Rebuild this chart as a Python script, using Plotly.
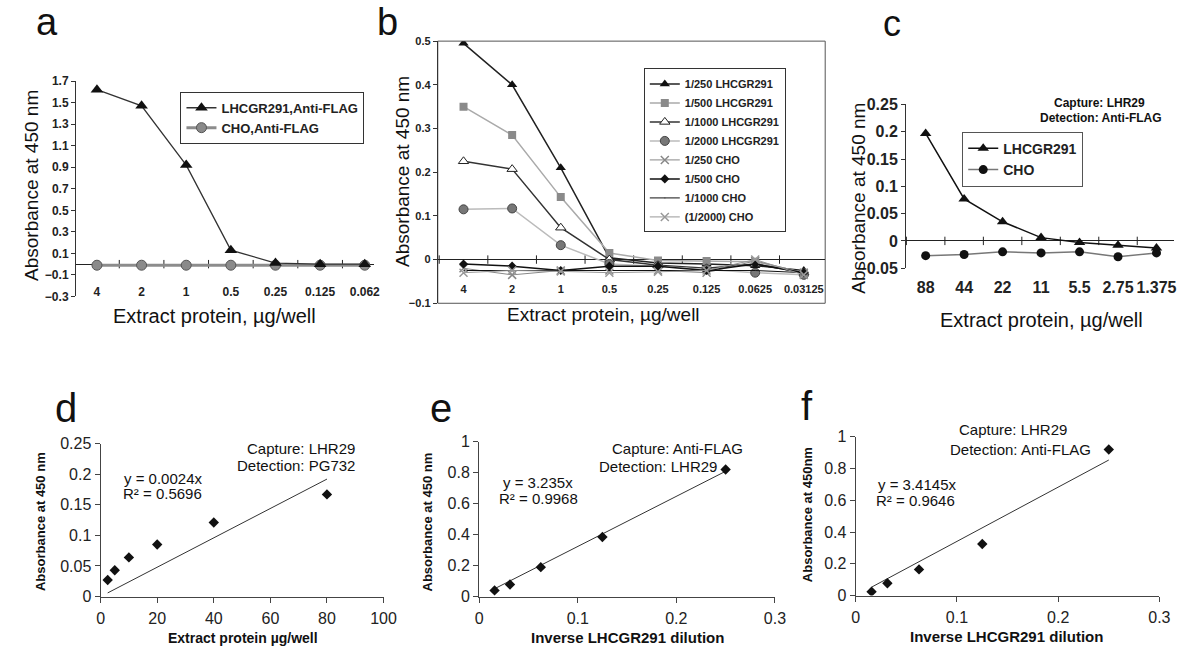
import plotly.graph_objects as go

FONT = "Liberation Sans, Arial, sans-serif"
W, H = 1200, 666

# ---- panel a ----
a_doses = ["4", "2", "1", "0.5", "0.25", "0.125", "0.062"]
a_lhcgr = [1.62, 1.47, 0.92, 0.13, 0.01, 0.0, 0.0]
a_cho = [-0.01, -0.01, -0.01, -0.01, -0.01, -0.01, -0.01]

# ---- panel b ----
b_doses = ["4", "2", "1", "0.5", "0.25", "0.125", "0.0625", "0.03125"]
b_names = ["1/250 LHCGR291", "1/500 LHCGR291", "1/1000 LHCGR291", "1/2000 LHCGR291",
           "1/250 CHO", "1/500 CHO", "1/1000 CHO", "(1/2000) CHO"]
b_250 = [0.495, 0.40, 0.21, 0.004, -0.008, -0.01, -0.014, -0.025]
b_500 = [0.35, 0.285, 0.143, 0.015, -0.002, -0.003, -0.005, -0.03]
b_1000 = [0.225, 0.207, 0.073, 0.0, -0.013, -0.02, -0.01, -0.03]
b_2000 = [0.115, 0.117, 0.033, -0.01, -0.015, -0.022, -0.03, -0.035]
b_cho250 = [-0.02, -0.035, -0.025, -0.025, -0.025, -0.03, -0.003, -0.03]
b_cho500 = [-0.01, -0.015, -0.025, -0.015, -0.015, -0.025, -0.01, -0.03]
b_cho1000 = [-0.025, -0.025, -0.025, -0.025, -0.025, -0.025, -0.025, -0.03]
b_cho2000 = [-0.03, -0.025, -0.027, -0.03, -0.028, -0.025, 0.0, -0.035]

# ---- panel c ----
c_doses = ["88", "44", "22", "11", "5.5", "2.75", "1.375"]
c_lhcgr = [0.197, 0.077, 0.035, 0.006, -0.003, -0.008, -0.013]
c_cho = [-0.027, -0.025, -0.02, -0.022, -0.02, -0.029, -0.022]

# ---- panels d, e, f ----
d_x = [2.5, 5, 10, 20, 40, 80]
d_y = [0.027, 0.043, 0.064, 0.085, 0.121, 0.167]
d_slope = 0.0024
e_x = [0.015625, 0.03125, 0.0625, 0.125, 0.25]
e_y = [0.04, 0.078, 0.19, 0.385, 0.82]
e_slope = 3.235
f_x = [0.015625, 0.03125, 0.0625, 0.125, 0.25]
f_y = [0.025, 0.078, 0.165, 0.325, 0.92]
f_slope = 3.4145


def px(x):
    return x / W


def py(y):
    return 1 - y / H


fig = go.Figure()


def zero_ticks(n, xa, ya):
    xs = [i - 0.5 for i in range(n + 1)]
    fig.add_trace(go.Scatter(x=xs, y=[0] * len(xs), xaxis=xa, yaxis=ya, mode="markers",
                             marker=dict(symbol="line-ns", size=6, line=dict(color="#222", width=1)),
                             showlegend=False, hoverinfo="skip"))


# panel a traces
ia = list(range(len(a_doses)))
zero_ticks(len(a_doses), "x", "y")
fig.add_trace(go.Scatter(x=ia, y=a_cho, name="CHO,Anti-FLAG", xaxis="x", yaxis="y",
                         mode="lines+markers", line=dict(color="#8c8c8c", width=3),
                         marker=dict(symbol="circle", size=10, color="#8a8a8a", line=dict(color="#555", width=1)),
                         legend="legend", legendrank=2))
fig.add_trace(go.Scatter(x=ia, y=a_lhcgr, name="LHCGR291,Anti-FLAG", xaxis="x", yaxis="y",
                         mode="lines+markers", line=dict(color="#333", width=1.3),
                         marker=dict(symbol="triangle-up", size=11, color="#111"),
                         legend="legend", legendrank=1))

# panel b traces
ib = list(range(len(b_doses)))
zero_ticks(len(b_doses), "x2", "y2")
b_series = [b_250, b_500, b_1000, b_2000, b_cho250, b_cho500, b_cho1000, b_cho2000]
b_styles = [
    dict(line=dict(color="#222", width=1.5), marker=dict(symbol="triangle-up", size=9, color="#111")),
    dict(line=dict(color="#aaa", width=1.5), marker=dict(symbol="square", size=8, color="#8a8a8a")),
    dict(line=dict(color="#333", width=1.5), marker=dict(symbol="triangle-up", size=9, color="white", line=dict(color="#222", width=1))),
    dict(line=dict(color="#bbb", width=1.5), marker=dict(symbol="circle", size=9, color="#777", line=dict(color="#444", width=1))),
    dict(line=dict(color="#888", width=1), marker=dict(symbol="x-thin-open", size=8, line=dict(color="#555", width=1.5))),
    dict(line=dict(color="#111", width=1.5), marker=dict(symbol="diamond", size=7, color="#111")),
    dict(line=dict(color="#111", width=1), marker=dict(size=1, opacity=0)),
    dict(line=dict(color="#999", width=1), marker=dict(symbol="x-thin-open", size=8, line=dict(color="#333", width=1.5))),
]
for k, (nm, ys, st) in enumerate(zip(b_names, b_series, b_styles)):
    fig.add_trace(go.Scatter(x=ib, y=ys, name=nm, xaxis="x2", yaxis="y2", mode="lines+markers",
                             legend="legend2", legendrank=k + 1, **st))

# panel c traces
ic = list(range(len(c_doses)))
zero_ticks(len(c_doses), "x3", "y3")
fig.add_trace(go.Scatter(x=ic, y=c_cho, name="CHO", xaxis="x3", yaxis="y3", mode="lines+markers",
                         line=dict(color="#777", width=1.5),
                         marker=dict(symbol="circle", size=9, color="#111"),
                         legend="legend3", legendrank=2))
fig.add_trace(go.Scatter(x=ic, y=c_lhcgr, name="LHCGR291", xaxis="x3", yaxis="y3", mode="lines+markers",
                         line=dict(color="#111", width=1.5),
                         marker=dict(symbol="triangle-up", size=10, color="#111"),
                         legend="legend3", legendrank=1))

# panels d, e, f
for xs, ys, slope, xa, ya in [(d_x, d_y, d_slope, "x4", "y4"),
                               (e_x, e_y, e_slope, "x5", "y5"),
                               (f_x, f_y, f_slope, "x6", "y6")]:
    lx = [min(xs), max(xs)]
    fig.add_trace(go.Scatter(x=lx, y=[slope * v for v in lx], xaxis=xa, yaxis=ya, mode="lines",
                             line=dict(color="#333", width=1), showlegend=False, hoverinfo="skip"))
    fig.add_trace(go.Scatter(x=xs, y=ys, xaxis=xa, yaxis=ya, mode="markers",
                             marker=dict(symbol="diamond", size=8, color="#111"),
                             showlegend=False))

cat_x = dict(showline=False, ticks="", showgrid=False, zeroline=False, anchor="free",
             tickfont=dict(family=FONT, color="#222", weight="bold"))
lin_y = dict(showline=True, linecolor="#333", linewidth=1, ticks="outside", ticklen=4,
             tickcolor="#333", showgrid=False, zeroline=True, zerolinecolor="#222", zerolinewidth=1,
             tickfont=dict(family=FONT, color="#222", weight="bold"))
num_x = dict(showline=True, linecolor="#444", linewidth=1.2, ticks="outside", ticklen=5,
             tickcolor="#444", showgrid=False, zeroline=False, ticklabelstandoff=2,
             tickfont=dict(family=FONT, size=16, color="#222"))
num_y = dict(showline=True, linecolor="#444", linewidth=1.2, ticks="outside", ticklen=5,
             tickcolor="#444", showgrid=False, zeroline=False,
             tickfont=dict(family=FONT, size=16, color="#222"))

fig.update_layout(
    width=W, height=H, margin=dict(l=0, r=0, t=0, b=0),
    plot_bgcolor="white", paper_bgcolor="white", font=dict(family=FONT, color="#222"),
    xaxis=dict(cat_x, domain=[px(73), px(375)], range=[-0.47, 6.2], tickvals=ia, ticktext=a_doses,
               position=py(282), tickfont=dict(size=12, family=FONT, weight="bold")),
    yaxis=dict(lin_y, anchor="x", domain=[py(296), py(75)], range=[-0.3, 1.7], tick0=-0.3, dtick=0.2,
               tickfont=dict(size=12, family=FONT, weight="bold")),
    xaxis2=dict(cat_x, domain=[px(440), px(833)], range=[-0.53, 7.44], tickvals=ib, ticktext=b_doses,
                position=py(280), tickfont=dict(size=11, family=FONT, weight="bold")),
    yaxis2=dict(lin_y, anchor="x2", domain=[py(303), py(34)], range=[-0.1, 0.5], dtick=0.1,
                tickfont=dict(size=11, family=FONT, weight="bold")),
    xaxis3=dict(cat_x, domain=[px(915), px(1187)], range=[-0.51, 6.46], tickvals=ic, ticktext=c_doses,
                position=py(275), tickfont=dict(size=16, family=FONT, weight="bold")),
    yaxis3=dict(lin_y, anchor="x3", domain=[py(267), py(99)], range=[-0.05, 0.25], dtick=0.05,
                tickfont=dict(size=16, family=FONT, weight="bold")),
    xaxis4=dict(num_x, anchor="y4", domain=[px(98), px(385)], range=[0, 100], dtick=20),
    yaxis4=dict(num_y, anchor="x4", domain=[py(604), py(447)], range=[0, 0.25], dtick=0.05),
    xaxis5=dict(num_x, anchor="y5", domain=[px(482), px(782)], range=[0, 0.3], dtick=0.1),
    yaxis5=dict(num_y, anchor="x5", domain=[py(604), py(445)], range=[0, 1], dtick=0.2),
    xaxis6=dict(num_x, anchor="y6", domain=[px(864), px(1172)], range=[0, 0.3], dtick=0.1),
    yaxis6=dict(num_y, anchor="x6", domain=[py(603), py(440)], range=[0, 1], dtick=0.2),
    legend=dict(x=px(179), y=py(86), xanchor="left", yanchor="top", bordercolor="#333", borderwidth=1,
                bgcolor="white", font=dict(size=13, family=FONT, weight="bold"), itemwidth=30,
                tracegroupgap=0),
    legend2=dict(x=px(649), y=py(62), xanchor="left", yanchor="top", bordercolor="#333", borderwidth=1,
                 bgcolor="white", font=dict(size=11, family=FONT, weight="bold"), itemwidth=30,
                 tracegroupgap=0),
    legend3=dict(x=px(972), y=py(127), xanchor="left", yanchor="top", bordercolor="#555", borderwidth=1,
                 bgcolor="white", font=dict(size=14, family=FONT, weight="bold"), itemwidth=30,
                 tracegroupgap=0),
)

# frame round panel b
fig.add_shape(type="rect", xref="x2 domain", yref="y2 domain", x0=0, y0=0, x1=1, y1=1,
              line=dict(color="#555", width=1), layer="below")


def note(text, x, y, size, bold=False, angle=0, xanchor="center"):
    fig.add_annotation(text=text, x=px(x), y=py(y), xref="paper", yref="paper", showarrow=False,
                       textangle=angle, xanchor=xanchor, yanchor="middle",
                       font=dict(family=FONT, size=size, color="#111", weight="bold" if bold else "normal"))


# panel letters
note("a", 44, 14, 38)
note("b", 389, 14, 38)
note("c", 901, 16, 36)
note("d", 63, 410, 40)
note("e", 443, 410, 40)
note("f", 815, 408, 40)

# axis titles, top row
note("Absorbance at 450 nm", 28, 182, 19, angle=-90)
note("Extract protein, µg/well", 214, 316, 20)
note("Absorbance at 450 nm", 404, 168, 19, angle=-90)
note("Extract protein, µg/well", 608, 315, 19)
note("Absorbance at 450 nm", 866, 195, 19, angle=-90)
note("Extract protein, µg/well", 1052, 320, 20)
note("Capture: LHR29", 1111, 98, 12, bold=True)
note("Detection: Anti-FLAG", 1113, 113, 12, bold=True)

# axis titles, bottom row
note("Absorbance at 450 nm", 37, 527, 13, bold=True, angle=-90)
note("Extract protein µg/well", 242, 646, 14, bold=True)
note("Absorbance at 450 nm", 430, 527, 13, bold=True, angle=-90)
note("Inverse LHCGR291 dilution", 632, 646, 15, bold=True)
note("Absorbance at 450nm", 815, 520, 13, bold=True, angle=-90)
note("Inverse LHCGR291 dilution", 1017, 645, 15, bold=True)

# fit labels
note("y = 0.0024x", 161, 483, 15)
note("R² = 0.5696", 161, 498, 15)
note("Capture: LHR29", 358, 452, 15, xanchor="right")
note("Detection: PG732", 358, 469, 15, xanchor="right")
note("y = 3.235x", 542, 487, 15)
note("R² = 0.9968", 542, 503, 15)
note("Capture: Anti-FLAG", 683, 452, 15)
note("Detection: LHR29", 663, 470, 15)
note("Capture: LHR29", 1024, 433, 15)
note("Detection: Anti-FLAG", 1031, 453, 15)
note("y = 3.4145x", 926, 489, 15)
note("R² = 0.9646", 925, 505, 15)

fig.write_html("out.html", config={"displayModeBar": False},
               post_script="document.body.style.margin='0';")
